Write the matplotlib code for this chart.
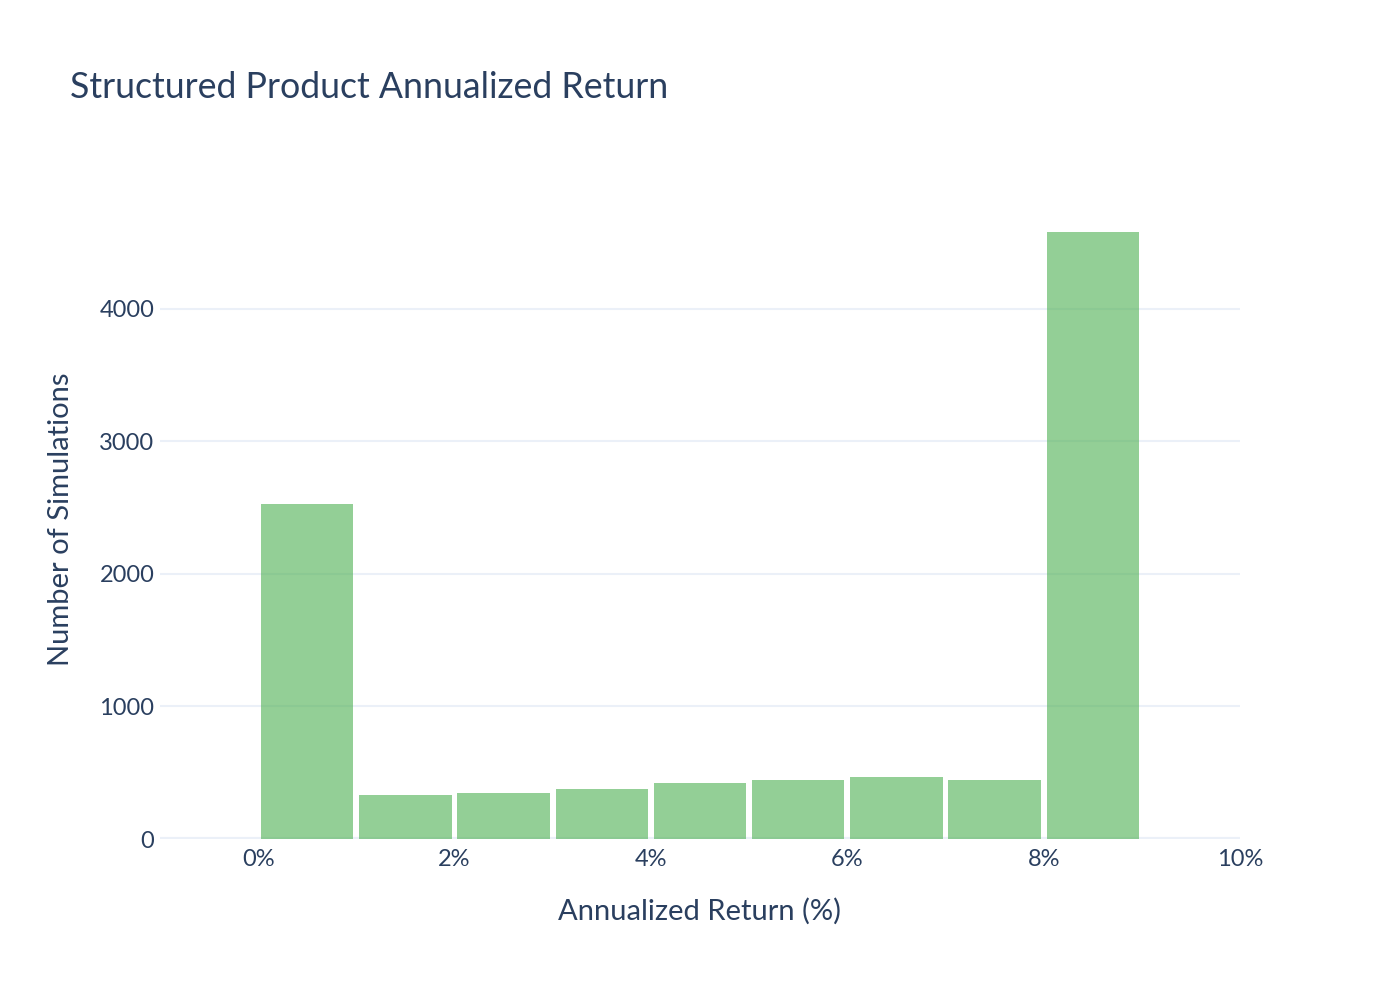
import matplotlib
matplotlib.use("Agg")
import matplotlib.pyplot as plt
import numpy as np

# histogram bins (left edges, %) and counts
bin_lefts = [0, 1, 2, 3, 4, 5, 6, 7, 8]
counts = [2530, 332, 347, 377, 423, 445, 468, 445, 4581]
x_ticks = [0, 2, 4, 6, 8, 10]
y_ticks = [0, 1000, 2000, 3000, 4000]

txt = "#2a3f5f"
grid = "#ebf0f8"
plt.rcParams['font.family'] = ['Lato', 'DejaVu Sans']

fig = plt.figure(figsize=(14, 10), dpi=100)
ax = fig.add_axes([160/1400, 1-839/1000, 1080/1400, 639/1000])

gap = 0.03
ax.bar(np.array(bin_lefts) + gap, counts, width=1 - 2*gap, align='edge',
       color="#4caf50", alpha=0.6, zorder=3)

ax.set_xlim(-1, 10)
ax.set_ylim(0, 4822)
ax.set_xticks(x_ticks)
ax.set_xticklabels([f"{t}%" for t in x_ticks])
ax.set_yticks(y_ticks)
ax.set_yticklabels([str(t) for t in y_ticks])

ax.grid(axis='y', color=grid, linewidth=1.5, zorder=0)
ax.axhline(0, color=grid, linewidth=3, zorder=1)
for s in ax.spines.values():
    s.set_visible(False)
ax.tick_params(length=0, labelsize=17, colors=txt)
ax.tick_params(axis='x', pad=7)
ax.tick_params(axis='y', pad=4)

ax.set_xlabel("Annualized Return (%)", fontsize=21, color=txt, labelpad=20)
ax.set_ylabel("Number of Simulations", fontsize=21, color=txt, labelpad=18)

fig.text(70/1400, 1-88/1000, "Structured Product Annualized Return", fontsize=25.7,
         color=txt, va='center', ha='left')

fig.savefig("out.png", dpi=100, facecolor="white")
